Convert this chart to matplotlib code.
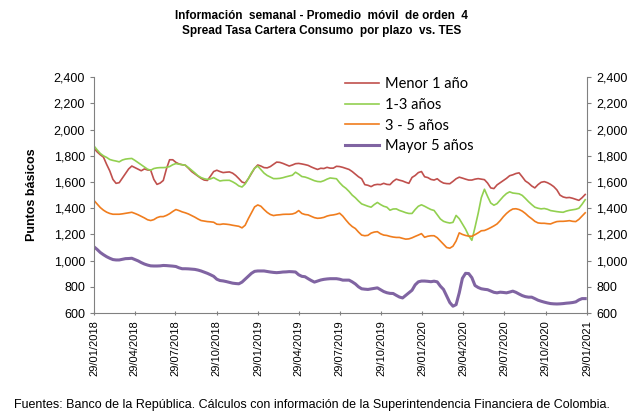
import datetime as dt
import matplotlib
matplotlib.use("Agg")
import matplotlib.pyplot as plt
import matplotlib.dates as mdates
from matplotlib.ticker import FuncFormatter, MultipleLocator

plt.rcParams['font.family'] = ['Liberation Sans', 'DejaVu Sans']

# Datos semanales (promedio móvil de orden 4)
inicio = dt.date(2018, 1, 29)
fechas = [inicio + dt.timedelta(weeks=i) for i in range(157)]

menor_1 = [
    1856, 1830, 1808, 1790, 1735, 1685, 1620, 1590, 1595, 1630, 1665, 1700, 1722, 1710, 1698, 1686,
    1700, 1692, 1690, 1620, 1582, 1592, 1612, 1700, 1770, 1770, 1750, 1738, 1732, 1728, 1705, 1680,
    1662, 1645, 1628, 1615, 1612, 1645, 1680, 1690, 1680, 1672, 1675, 1677, 1668, 1650, 1626, 1600,
    1592, 1625, 1665, 1705, 1730, 1722, 1710, 1708, 1718, 1735, 1752, 1750, 1742, 1732, 1722, 1730,
    1740, 1742, 1738, 1733, 1727, 1715, 1705, 1696, 1705, 1703, 1712, 1706, 1706, 1720, 1718, 1712,
    1704, 1696, 1680, 1660, 1640, 1625, 1580, 1575, 1565, 1578, 1582, 1580, 1590, 1582, 1580, 1605,
    1622, 1614, 1608, 1598, 1590, 1635, 1650, 1672, 1680, 1640, 1634, 1620, 1615, 1625, 1605, 1592,
    1588, 1587, 1605, 1625, 1637, 1630, 1622, 1615, 1615, 1622, 1626, 1622, 1618, 1592, 1555, 1550,
    1578, 1595, 1612, 1628, 1648, 1655, 1665, 1670, 1640, 1608, 1592, 1570, 1555, 1580, 1598, 1603,
    1595, 1582, 1565, 1540, 1500, 1486, 1480, 1482, 1476, 1468, 1460, 1480, 1505]

de_1_a_3 = [
    1875, 1845, 1818, 1800, 1788, 1772, 1765, 1760, 1754, 1768, 1775, 1778, 1780, 1765, 1748, 1732,
    1715, 1698, 1690, 1703, 1708, 1710, 1710, 1712, 1718, 1732, 1741, 1736, 1732, 1728, 1710, 1690,
    1670, 1648, 1634, 1625, 1620, 1624, 1634, 1620, 1608, 1612, 1613, 1613, 1602, 1588, 1570, 1562,
    1585, 1625, 1670, 1705, 1722, 1695, 1668, 1650, 1638, 1626, 1626, 1628, 1633, 1640, 1646, 1652,
    1675, 1660, 1642, 1638, 1630, 1620, 1610, 1604, 1602, 1610, 1622, 1631, 1628, 1625, 1595, 1570,
    1552, 1528, 1500, 1480, 1455, 1433, 1424, 1415, 1408, 1428, 1444, 1428, 1415, 1408, 1385, 1394,
    1395, 1383, 1375, 1366, 1360, 1360, 1390, 1415, 1426, 1415, 1402, 1390, 1383, 1350, 1318, 1300,
    1292, 1287, 1292, 1345, 1320, 1280, 1240, 1190, 1155, 1254, 1360, 1480, 1545, 1490, 1440, 1423,
    1435, 1462, 1490, 1512, 1525, 1516, 1513, 1510, 1498, 1475, 1450, 1428, 1408, 1400, 1395, 1398,
    1392, 1382, 1378, 1374, 1371, 1369, 1378, 1384, 1388, 1392, 1400, 1430, 1465]

de_3_a_5 = [
    1459, 1432, 1405, 1385, 1370, 1360, 1354, 1354, 1354, 1357, 1361, 1365, 1369, 1360, 1350, 1338,
    1326, 1312, 1306, 1313, 1328, 1336, 1336, 1345, 1358, 1375, 1390, 1382, 1372, 1365, 1356, 1344,
    1332, 1318, 1306, 1302, 1298, 1296, 1293, 1278, 1276, 1280, 1278, 1275, 1270, 1266, 1262, 1250,
    1270, 1320, 1365, 1410, 1425, 1415, 1390, 1368, 1352, 1344, 1348, 1350, 1353, 1354, 1354, 1356,
    1364, 1382, 1360, 1352, 1349, 1338, 1328, 1323, 1325, 1330, 1340, 1346, 1349, 1354, 1362, 1340,
    1310, 1282, 1260, 1245, 1218, 1195, 1190, 1193, 1210, 1218, 1221, 1205, 1195, 1192, 1185, 1180,
    1177, 1177, 1170, 1164, 1166, 1174, 1185, 1195, 1206, 1178, 1186, 1190, 1190, 1175, 1150, 1125,
    1100, 1095, 1110, 1150, 1212, 1200, 1192, 1187, 1186, 1198, 1212, 1228, 1230, 1240, 1252, 1265,
    1280, 1305, 1335, 1360, 1380, 1394, 1396, 1390, 1378, 1360, 1338, 1320, 1300, 1288, 1285, 1285,
    1282, 1280, 1290, 1298, 1300, 1300, 1302, 1305, 1300, 1298, 1315, 1340, 1365]

mayor_5 = [
    1105, 1085, 1062, 1045, 1030, 1018, 1008, 1005, 1005, 1010, 1015, 1016, 1018, 1008, 998, 985,
    974, 966, 960, 959, 959, 960, 963, 962, 960, 958, 955, 945, 938, 938, 937, 935,
    933, 928, 921, 912, 903, 892, 880, 858, 848, 845, 840, 834, 828, 825, 823, 836,
    858, 880, 903, 918, 921, 921, 921, 917, 913, 910, 908, 910, 913, 914, 916, 915,
    913, 892, 880, 877, 862, 848, 836, 844, 852, 857, 860, 862, 862, 862, 858, 851,
    851, 851, 838, 822, 800, 785, 782, 780, 784, 788, 792, 778, 764, 755, 750, 749,
    735, 722, 715, 735, 755, 774, 815, 838, 844, 844, 842, 839, 843, 838, 805, 780,
    730, 680, 652, 664, 754, 865, 903, 901, 870, 810, 795, 785, 781, 778, 768, 758,
    754, 759, 757, 754, 760, 767, 758, 745, 733, 725, 721, 721, 710, 698, 690, 683,
    677, 672, 670, 669, 670, 672, 675, 677, 680, 685, 700, 710, 710]

series = [
    ("Menor 1 año", menor_1, "#C0504D", 1.2),
    ("1-3 años", de_1_a_3, "#92D050", 1.2),
    ("3 - 5 años", de_3_a_5, "#F07D1E", 1.2),
    ("Mayor 5 años", mayor_5, "#8064A2", 2.2),
]

fig = plt.figure(figsize=(6.37, 4.13), dpi=100)
ax = fig.add_axes([0.1476, 0.2421, 0.7739, 0.5709])

for nombre, valores, color, grosor in series:
    ax.plot(fechas, valores, color=color, lw=grosor, label=nombre)

ax.set_ylim(600, 2400)
ax.yaxis.set_major_locator(MultipleLocator(200))
ax.yaxis.set_major_formatter(FuncFormatter(lambda v, p: f"{int(v):,}"))
ax.set_xlim(dt.date(2018, 1, 29), dt.date(2021, 1, 29))
ticks_x = [dt.date(2018 + (m // 12), m % 12 + 1, 29) for m in range(0, 37, 3)]
ax.set_xticks(ticks_x)
ax.xaxis.set_major_formatter(mdates.DateFormatter("%d/%m/%Y"))

ax.tick_params(axis='x', labelsize=8, rotation=90, length=3, direction='inout', color='#808080')
ax.tick_params(axis='y', labelsize=9, length=3, direction='out', color='#808080',
               right=True, labelright=True)
for lado in ['left', 'right', 'bottom']:
    ax.spines[lado].set_color('#808080')
ax.spines['top'].set_visible(False)

ax.set_ylabel("Puntos básicos", fontsize=9, fontweight='bold', labelpad=11)

ax.legend(loc='upper left', bbox_to_anchor=(0.483, 1.055), frameon=False,
          prop={'family': 'Lato', 'size': 10.5}, handlelength=2.3, labelspacing=0.45,
          handletextpad=0.4)

fig.text(0.505, 0.955, "Información  semanal - Promedio  móvil  de orden  4", ha='center',
         fontsize=8.5, fontweight='bold')
fig.text(0.505, 0.918, "Spread Tasa Cartera Consumo  por plazo  vs. TES", ha='center',
         fontsize=8.5, fontweight='bold')
fig.text(0.022, 0.012, "Fuentes: Banco de la República. Cálculos con información de la "
         "Superintendencia Financiera de Colombia.", fontsize=9)

fig.savefig("out.png", dpi=100)
